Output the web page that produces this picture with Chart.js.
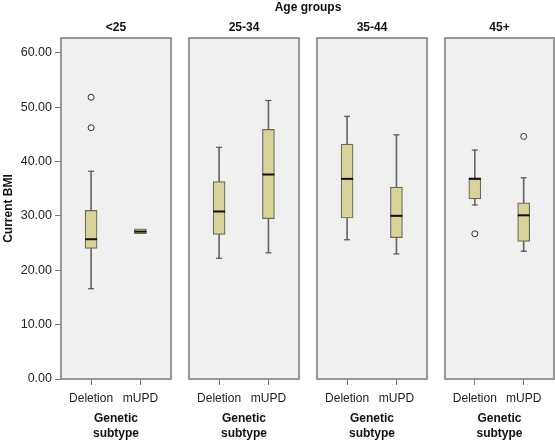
<!DOCTYPE html>
<html>
<head>
<meta charset="utf-8">
<script src="https://cdn.jsdelivr.net/npm/chart.js@4"></script>
<style>
  body { margin: 0; background: #fff; }
  #wrap { position: relative; width: 555px; height: 440px; font-family: "Liberation Sans", Arial, sans-serif; }
  .panel { position: absolute; top: 0; height: 440px; }
  #supTitle { position: absolute; left: 61px; width: 494px; top: 0; text-align: center; font-weight: bold; font-size: 12px; line-height: 14px; color: #111; }
</style>
</head>
<body>
<div id="wrap">
  <div class="panel" style="left:0;width:175px"><canvas id="p0"></canvas></div>
  <div class="panel" style="left:185px;width:118px"><canvas id="p1"></canvas></div>
  <div class="panel" style="left:313px;width:118px"><canvas id="p2"></canvas></div>
  <div class="panel" style="left:441px;width:114px"><canvas id="p3"></canvas></div>
  <div id="supTitle">Age groups</div>
</div>
<script>
// age groups (one panel each) and the two genetic subtypes inside a panel
const ageGroups = ['<25', '25-34', '35-44', '45+'];
const subtypes = ['Deletion', 'mUPD'];
const yTicks = [0, 10, 20, 30, 40, 50, 60];

// box plot stats per age group: [Deletion, mUPD]
const whiskerLow  = [[16.6, null], [22.2, 23.2], [25.6, 23.0], [32.0, 23.5]];
const q1          = [[24.0, 26.7], [26.6, 29.5], [29.6, 26.0], [33.1, 25.3]];
const median      = [[25.7, 27.1], [30.8, 37.6], [36.8, 30.0], [36.8, 30.1]];
const q3          = [[31.0, 27.6], [36.3, 45.9], [43.2, 35.3], [37.0, 32.4]];
const whiskerHigh = [[38.2, null], [42.6, 51.2], [48.3, 44.9], [42.1, 37.0]];
const outliers    = [[[51.8, 46.2], []], [[], []], [[], []], [[26.7], [44.6]]];

const panelBox = {
    id: 'panelBox',
    beforeDatasetsDraw(chart) {
        const a = chart.chartArea, ctx = chart.ctx;
        ctx.save();
        ctx.fillStyle = '#f0f0f0';
        ctx.fillRect(a.left, a.top, a.right - a.left, a.bottom - a.top);
        ctx.restore();
    },
    afterDatasetsDraw(chart) {
        const a = chart.chartArea, ctx = chart.ctx;
        ctx.save();
        ctx.strokeStyle = '#808080';
        ctx.lineWidth = 1.6;
        ctx.strokeRect(a.left, a.top, a.right - a.left, a.bottom - a.top);
        ctx.restore();
    }
};

function makePanel(i) {
    const first = i === 0;
    const whiskers = [], boxes = [], meds = [], caps = [], outs = [];
    subtypes.forEach((s, j) => {
        if (whiskerLow[i][j] !== null) {
            whiskers.push({x: j, y: [whiskerLow[i][j], whiskerHigh[i][j]]});
            caps.push({x: j, y: whiskerLow[i][j]}, {x: j, y: whiskerHigh[i][j]});
        }
        boxes.push({x: j, y: [q1[i][j], q3[i][j]]});
        meds.push({x: j, y: median[i][j]});
        outliers[i][j].forEach(v => outs.push({x: j, y: v}));
    });

    new Chart(document.getElementById('p' + i), {
        data: {
            datasets: [
                {type: 'bar', data: whiskers, backgroundColor: '#666', barThickness: 1, grouped: false, order: 5},
                {type: 'scatter', data: caps, pointStyle: 'line', pointRadius: 3, borderColor: '#555', borderWidth: 1.2, order: 4},
                {type: 'bar', data: boxes, backgroundColor: '#d8d29c', borderColor: '#6b6a55', borderWidth: 1.2,
                 borderSkipped: false, barThickness: 12, grouped: false, order: 3},
                {type: 'scatter', data: meds, pointStyle: 'line', pointRadius: 6, borderColor: '#111', borderWidth: 2, order: 2},
                {type: 'scatter', data: outs, pointStyle: 'circle', pointRadius: 3, backgroundColor: '#f0f0f0',
                 borderColor: '#333', borderWidth: 1, order: 1}
            ]
        },
        options: {
            responsive: true,
            maintainAspectRatio: false,
            animation: false,
            layout: {autoPadding: false, padding: {left: first ? 0 : 4, right: i === 3 ? 1 : 4, top: 0, bottom: 0}},
            plugins: {
                legend: {display: false},
                tooltip: {enabled: false},
                title: {
                    display: true, text: ageGroups[i], color: '#111', fullSize: false,
                    font: {family: 'Liberation Sans', size: 12, weight: 'bold'},
                    padding: {top: 20, bottom: 3.6}
                }
            },
            scales: {
                x: {
                    type: 'linear', min: -0.61, max: 1.62, offset: false,
                    afterBuildTicks: sc => { sc.ticks = subtypes.map((s, j) => ({value: j})); },
                    afterFit: sc => { sc.height = 61; sc.paddingLeft = 0; sc.paddingRight = 0; },
                    grid: {drawOnChartArea: false, offset: false, tickLength: 6, color: '#777'},
                    border: {display: false},
                    ticks: {
                        callback: v => subtypes[v], padding: 6, color: '#222', maxRotation: 0,
                        font: {family: 'Liberation Sans', size: 12}
                    },
                    title: {
                        display: true, text: ['Genetic', 'subtype'], color: '#111',
                        font: {family: 'Liberation Sans', size: 12, weight: 'bold', lineHeight: 1.25},
                        padding: {top: 0, bottom: -1}
                    }
                },
                y: {
                    min: 0, max: 62.7,
                    display: first,
                    afterBuildTicks: sc => { sc.ticks = yTicks.map(v => ({value: v})); },
                    afterFit: sc => { if (first) sc.width = 61; },
                    grid: {drawOnChartArea: false, tickLength: 6, color: '#777'},
                    border: {display: false},
                    ticks: {
                        callback: v => v.toFixed(2), padding: 3, color: '#222',
                        font: {family: 'Liberation Sans', size: 12.5}
                    },
                    title: {
                        display: true, text: 'Current BMI', color: '#111',
                        font: {family: 'Liberation Sans', size: 12, weight: 'bold'},
                        padding: {top: 1, bottom: 0}
                    }
                }
            }
        },
        plugins: [panelBox]
    });
}

ageGroups.forEach((g, i) => makePanel(i));
</script>
</body>
</html>
